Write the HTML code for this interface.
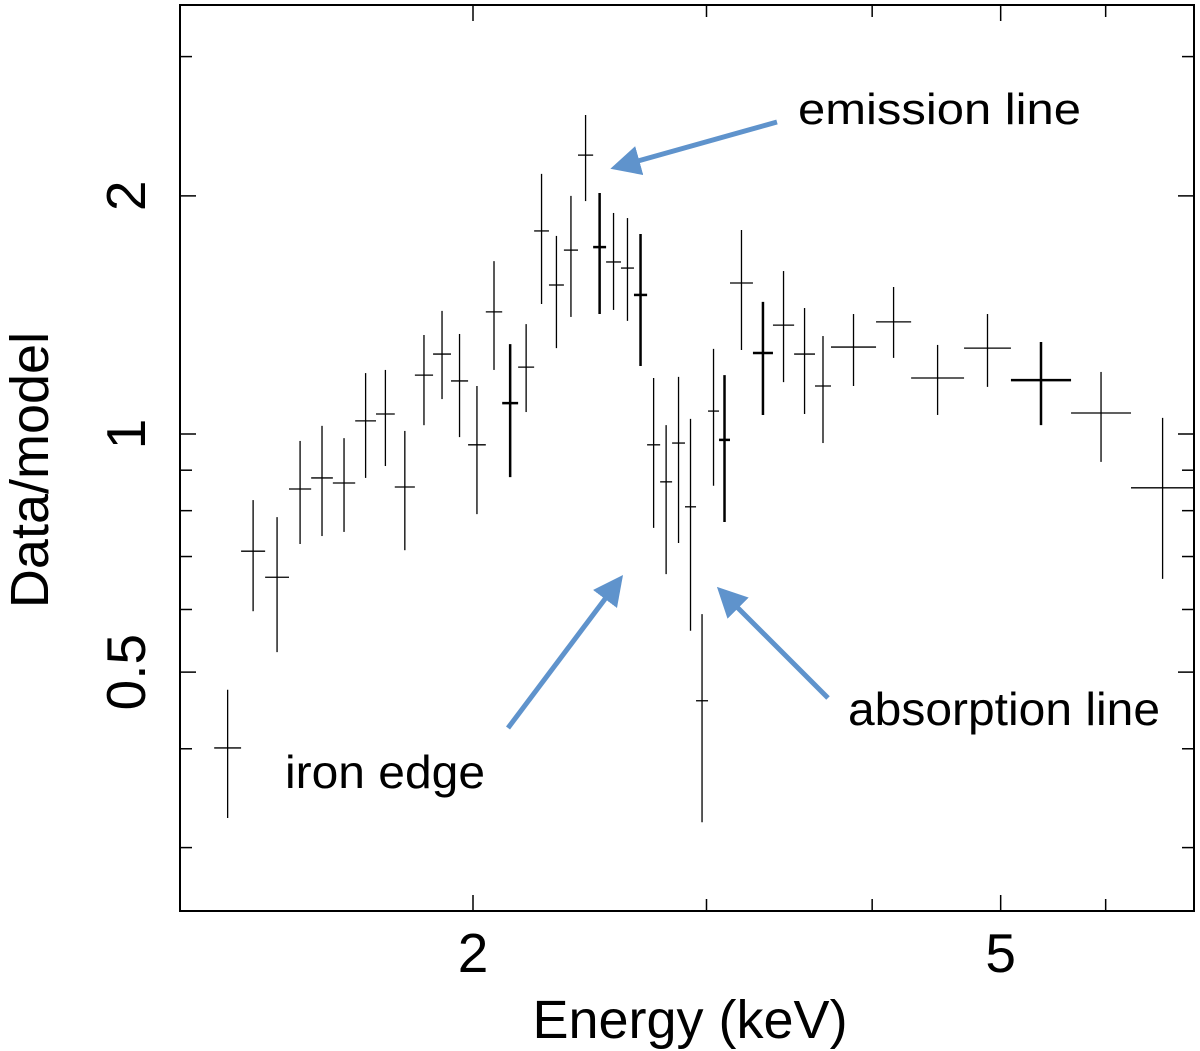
<!DOCTYPE html>
<html><head><meta charset="utf-8">
<style>
html,body{margin:0;padding:0;background:#fff;}
svg{display:block;font-family:"Liberation Sans",Arial,sans-serif;}
</style></head>
<body>
<svg id="chart" width="1200" height="1051" viewBox="0 0 1200 1051" xmlns="http://www.w3.org/2000/svg">
<defs>
<marker id="ah" markerWidth="6" markerHeight="6" refX="4" refY="3" orient="auto" markerUnits="strokeWidth">
<path d="M0,0 L6,3 L0,6 Z" fill="#5f93cc"/>
</marker>
</defs>
<g id="frame"></g>
<g id="marks"></g>
<g id="ann">
<line x1="777" y1="122" x2="620" y2="166" stroke="#5f93cc" stroke-width="5" marker-end="url(#ah)"/>
<line x1="508" y1="728" x2="617" y2="583" stroke="#5f93cc" stroke-width="5" marker-end="url(#ah)"/>
<line x1="828" y1="698" x2="724" y2="594" stroke="#5f93cc" stroke-width="5" marker-end="url(#ah)"/>
<text x="798" y="124" font-size="44" textLength="283" lengthAdjust="spacingAndGlyphs">emission line</text>
<text x="285" y="788" font-size="46" textLength="200" lengthAdjust="spacingAndGlyphs">iron edge</text>
<text x="848" y="725" font-size="46" textLength="312" lengthAdjust="spacingAndGlyphs">absorption line</text>
</g>
<text x="690" y="1038" font-size="54" text-anchor="middle">Energy (keV)</text>
<text transform="translate(48,470) rotate(-90)" font-size="54" text-anchor="middle">Data/model</text>
</svg>
<script>
const edges = [1.276,1.337,1.394,1.453,1.510,1.568,1.630,1.690,1.746,1.808,1.866,1.925,1.983,2.045,2.104,2.163,2.224,2.282,2.342,2.400,2.464,2.520,2.586,2.645,2.706,2.768,2.826,2.890,2.946,3.008,3.066,3.125,3.252,3.367,3.493,3.622,3.724,4.027,4.280,4.692,5.090,5.650,6.270,6.997];
const ratio = [0.401,0.711,0.659,0.852,0.880,0.867,1.039,1.060,0.857,1.187,1.262,1.167,0.969,1.427,1.094,1.215,1.806,1.543,1.708,2.252,1.723,1.650,1.621,1.499,0.969,0.870,0.974,0.809,0.460,1.069,0.983,1.552,1.266,1.373,1.262,1.150,1.288,1.386,1.177,1.284,1.170,1.063,0.855];
const ratioHi = [0.475,0.825,0.785,0.980,1.024,0.988,1.194,1.205,1.009,1.334,1.431,1.338,1.150,1.654,1.299,1.377,2.132,1.780,2.000,2.531,2.017,1.903,1.875,1.790,1.177,1.026,1.181,1.045,0.592,1.281,1.187,1.811,1.469,1.607,1.443,1.330,1.418,1.534,1.296,1.418,1.307,1.198,1.048];
const ratioLo = [0.327,0.597,0.530,0.726,0.743,0.752,0.880,0.911,0.713,1.026,1.107,0.991,0.792,1.205,0.882,1.066,1.460,1.284,1.406,1.970,1.418,1.435,1.390,1.219,0.761,0.665,0.728,0.564,0.323,0.860,0.774,1.277,1.057,1.163,1.060,0.974,1.150,1.248,1.057,1.147,1.026,0.922,0.656];
const emphasized = [14,20,23,30,32,40];
const xTicks = [2,3,4,5,6];
const xLabels = ["2","","","5",""];
const yTicks = [3,2,1,0.9,0.8,0.7,0.6,0.5,0.4,0.3];
const yLabels = ["","2","1","","","","","0.5","",""];

const L=180,R=1194,T=5,B=911;
const xs = e => 473 + 1326*Math.log10(e/2);
const ys = r => 434 - 791*Math.log10(r);
const NS="http://www.w3.org/2000/svg";
function mk(tag, parent, attrs){const el=document.createElementNS(NS,tag);for(const k in attrs)el.setAttribute(k,attrs[k]);parent.appendChild(el);return el;}
const frame=document.getElementById('frame');
const border = mk('rect',frame,{x:L,y:T,width:R-L,height:B-T,fill:'none',stroke:'#000','stroke-width':2});


xTicks.forEach((v,i)=>{
  const x=xs(v), len = xLabels[i]? 16:12;
  const t1=mk('line',frame,{x1:x,x2:x,y1:B,y2:B-len,stroke:'#000','stroke-width':1.5});
  
  
  const t2=mk('line',frame,{x1:x,x2:x,y1:T,y2:T+len,stroke:'#000','stroke-width':1.5});
  
  
  if(xLabels[i]){
    const tx=mk('text',frame,{x:x,y:972,'font-size':55,'text-anchor':'middle'});
    tx.textContent=xLabels[i];
    
    
  }
});
yTicks.forEach((v,i)=>{
  const y=ys(v), len = yLabels[i]? 16:12;
  const t1=mk('line',frame,{x1:L,x2:L+len,y1:y,y2:y,stroke:'#000','stroke-width':1.5});
  
  
  const t2=mk('line',frame,{x1:R,x2:R-len,y1:y,y2:y,stroke:'#000','stroke-width':1.5});
  
  
  if(yLabels[i]){
    const tx=mk('text',frame,{transform:`translate(145,${y}) rotate(-90)`,'font-size':55,'text-anchor':'middle'});
    tx.textContent=yLabels[i];
    
    
  }
});
const marks=document.getElementById('marks');
ratio.forEach((r,i)=>{
  const x0=xs(edges[i]), x1=xs(edges[i+1]);
  const xc=xs(Math.sqrt(edges[i]*edges[i+1]));
  const w = emphasized.includes(i)?2.5:1.3;
  const g=mk('g',marks,{stroke:'#000','stroke-width':w});
  
  
  mk('line',g,{x1:x0,x2:x1,y1:ys(r),y2:ys(r)});
  mk('line',g,{x1:xc,x2:xc,y1:ys(ratioHi[i]),y2:ys(ratioLo[i])});
});
</script>
</body></html>
